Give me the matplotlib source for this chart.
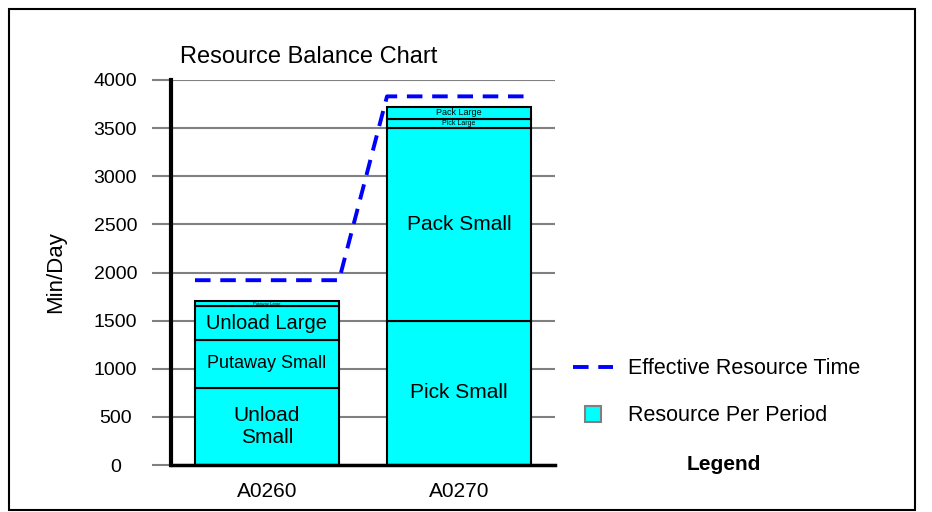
import numpy as np
import matplotlib.pyplot as plt
from matplotlib.lines import Line2D
from matplotlib.patches import Rectangle

plt.rcParams['font.family'] = ['Liberation Sans', 'DejaVu Sans']

# data (minutes per day)
categories = ["A0260", "A0270"]
a0260_tasks = ["Unload\nSmall", "Putaway Small", "Unload Large", "Putaway Large"]
a0260_mins = [800, 500, 350, 50]
a0270_tasks = ["Pick Small", "Pack Small", "Pick Large", "Pack Large"]
a0270_mins = [1500, 2000, 100, 120]
effective_time = [1920, 3830]

# label sizes inside the segments
a0260_fs = [15, 13, 14.5, 3]
a0270_fs = [15, 15, 5, 6.5]

fig = plt.figure(figsize=(9.32, 5.12), dpi=100)
ax = fig.add_axes([171/932, 1-465/512, 384/932, 385/512])

w = 0.75
x = np.arange(len(categories))

def stack(xpos, mins, tasks, sizes):
    bottom = 0
    for m, t, fs in zip(mins, tasks, sizes):
        ax.bar(xpos, m, w, bottom=bottom, color="#00FFFF", edgecolor="black",
               linewidth=1.5, zorder=3)
        ax.text(xpos, bottom + m/2, t, ha="center", va="center", fontsize=fs,
                zorder=4, linespacing=1.15)
        bottom += m

stack(x[0], a0260_mins, a0260_tasks, a0260_fs)
stack(x[1], a0270_mins, a0270_tasks, a0270_fs)

# effective time drawn across each bar's width
lx = []
ly = []
for xi, v in zip(x, effective_time):
    lx += [xi - w/2, xi + w/2]
    ly += [v, v]
ax.plot(lx, ly, color="#0000FF", lw=2.8, dashes=(4, 2.5), zorder=5)

ax.set_xlim(-0.5, 1.5)
ax.set_ylim(0, 4000)
ax.set_yticks(np.arange(0, 4001, 500))
ax.set_xticks(x)
ax.set_xticklabels(categories, fontsize=15)
ax.tick_params(axis="y", length=14, width=1.5, color="#808080", labelsize=14, pad=26)
for lab in ax.get_yticklabels():
    lab.set_ha("center")
ax.tick_params(axis="x", length=0, pad=12)
ax.grid(axis="y", color="#808080", lw=1.5, zorder=0)
ax.set_axisbelow(True)
for s in ["top", "right"]:
    ax.spines[s].set_visible(False)
ax.spines["left"].set_linewidth(3)
ax.spines["bottom"].set_linewidth(2.5)
ax.spines["left"].set_zorder(6)
ax.spines["bottom"].set_zorder(6)
ax.set_ylabel("Min/Day", fontsize=16)
ax.yaxis.set_label_coords(-0.274, 0.5)

fig.text(180/932, 1-57/512, "Resource Balance Chart", fontsize=17, va="center", ha="left")

handles = [Line2D([0], [0], color="#0000FF", lw=2.8, dashes=(4, 2.5)),
           Line2D([0], [0], ls="none", marker="s", markersize=11.5,
                  markerfacecolor="#00FFFF", markeredgecolor="#808080", markeredgewidth=1.5)]
fig.legend(handles, ["Effective Resource Time", "Resource Per Period"],
           loc="upper left", bbox_to_anchor=(556/932, 1-341/512), frameon=False,
           fontsize=15.5, handlelength=1.85, labelspacing=1.2,
           handletextpad=0.7, borderpad=0.3)
fig.text(724/932, 1-464/512, "Legend", fontsize=15, fontweight="bold",
         ha="center", va="center")

fig.patches.append(Rectangle((9/932, 1-510/512), 906/932, 501/512, transform=fig.transFigure,
                             fill=False, edgecolor="black", lw=1.5))

fig.savefig("out.png", dpi=100)
